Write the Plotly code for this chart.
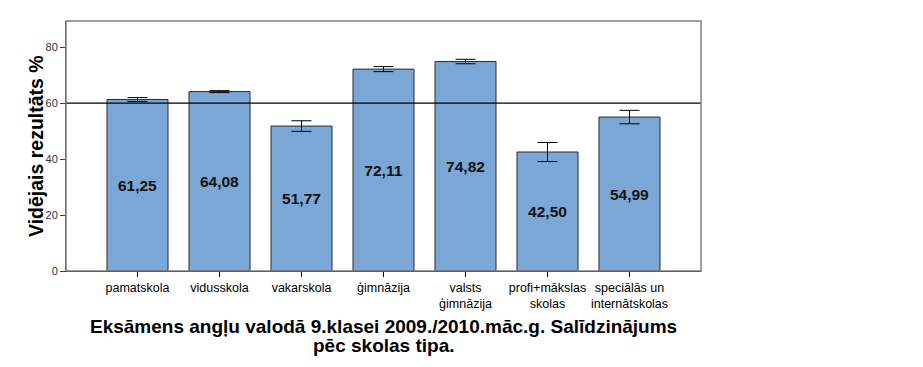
import plotly.graph_objects as go

categories = ["pamatskola", "vidusskola", "vakarskola", "ģimnāzija",
              "valsts<br>ģimnāzija", "profi+mākslas<br>skolas", "speciālās un<br>internātskolas"]
values = [61.25, 64.08, 51.77, 72.11, 74.82, 42.50, 54.99]
err = [0.7, 0.35, 1.9, 0.9, 0.8, 3.4, 2.4]
labels = ["61,25", "64,08", "51,77", "72,11", "74,82", "42,50", "54,99"]
ref_value = 60
y_ticks = [0, 20, 40, 60, 80]
title_lines = ["Eksāmens angļu valodā 9.klasei 2009./2010.māc.g. Salīdzinājums",
               "pēc skolas tipa."]
y_title = "Vidējais rezultāts %"

font = "Liberation Sans, Arial, sans-serif"

fig = go.Figure()
fig.add_trace(go.Bar(
    x=list(range(len(categories))), y=values,
    width=0.744,
    marker=dict(color="#7BA7D7", line=dict(color="#2b2b2b", width=1)),
    text=labels, textposition="inside", insidetextanchor="middle",
    textangle=0,
    textfont=dict(family=font, size=15.5, color="#111", weight="bold"),
    error_y=dict(type="data", array=err, visible=True, color="black", thickness=1, width=10),
    hoverinfo="skip",
))

fig.add_shape(type="line", xref="paper", x0=0, x1=1, yref="y", y0=ref_value, y1=ref_value,
              line=dict(color="black", width=1.2))
fig.add_shape(type="rect", xref="paper", yref="paper", x0=0, x1=1, y0=0, y1=1,
              line=dict(color="#808080", width=1.5), layer="above")

annotations = [
    dict(text=y_title, xref="paper", yref="paper", x=-0.0472, y=0.5,
         xanchor="center", yanchor="middle", textangle=-90, showarrow=False,
         font=dict(family=font, size=19.5, color="black", weight="bold")),
    dict(text=title_lines[0], xref="paper", yref="paper", x=0.5, y=(271 - 326) / 250,
         xanchor="center", yanchor="middle", showarrow=False,
         font=dict(family=font, size=19, color="black", weight="bold")),
    dict(text=title_lines[1], xref="paper", yref="paper", x=0.5, y=(271 - 345) / 250,
         xanchor="center", yanchor="middle", showarrow=False,
         font=dict(family=font, size=19, color="black", weight="bold")),
]

fig.update_layout(
    width=923, height=367,
    margin=dict(l=66, r=222, t=21, b=96),
    plot_bgcolor="white", paper_bgcolor="white",
    showlegend=False,
    font=dict(family=font, color="black"),
    xaxis=dict(
        range=[-0.872, 6.872],
        tickmode="array", tickvals=list(range(len(categories))), ticktext=categories,
        ticks="outside", ticklen=5, tickcolor="black",
        showline=True, linecolor="black", linewidth=1,
        showgrid=False, zeroline=False,
        tickfont=dict(family=font, size=12.5, color="black"),
    ),
    yaxis=dict(
        range=[0, 89.3],
        tickmode="array", tickvals=y_ticks,
        ticks="outside", ticklen=5, tickcolor="#404040",
        showline=True, linecolor="#404040", linewidth=1,
        showgrid=False, zeroline=False,
        tickfont=dict(family=font, size=11, color="#333"),
    ),
    annotations=annotations,
)

fig.write_html("out.html")
